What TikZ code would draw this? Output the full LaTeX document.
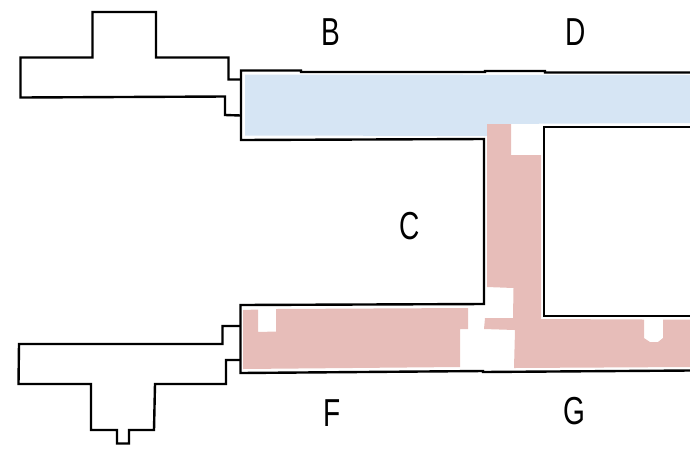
\documentclass[tikz,border=0pt]{standalone}
\usepackage{fontspec}
\setmainfont{Liberation Sans}
\definecolor{hallblue}{HTML}{D6E5F4}
\definecolor{hallpink}{HTML}{E7BDB9}
\tikzset{
    wall/.style={draw=black, line width=2.4pt, line join=miter},
    bluepart/.style={fill=hallblue},
    pinkpart/.style={fill=hallpink},
    wing/.style={font=\fontsize{39}{39}\selectfont, xscale=0.72, inner sep=0pt}
}
\begin{document}
\begin{tikzpicture}[x=1pt, y=-1pt]
    \useasboundingbox (0,0) rectangle (690,448);

    % coloured floors
    \fill[bluepart] (245,74.5) -- (690,75) -- (690,123) -- (487,124) -- (487,136)
        -- (245,135.5) -- cycle;
    \fill[pinkpart] (487,124) -- (511,124) -- (511,155) -- (541,155) -- (541,319)
        -- (644,319.5) -- (644,338) -- (650,342) -- (658,342) -- (663,338)
        -- (663,319.5) -- (690,319.5) -- (690,367) -- (514,368) -- (515,330)
        -- (484,329) -- (485,318) -- (513,318) -- (513.5,288) -- (487,287) -- cycle;
    \fill[pinkpart] (243,310) -- (258,309.5) -- (258,332) -- (276,331.5) -- (276,309)
        -- (468,308) -- (468,329) -- (460,329) -- (460,367) -- (243,369) -- cycle;

    % walls
    \draw[wall] (690,72.5) -- (545,72.5) -- (545,71) -- (485,71) -- (485,72)
        -- (301,72) -- (301,70.5) -- (241,70.5) -- (241,140) -- (484,139)
        -- (484,304) -- (240.5,305) -- (240.5,373) -- (483,371) -- (483,372)
        -- (690,370.5);
    \draw[wall] (690,127) -- (544,127) -- (544,316) -- (690,316);

    % upper chapel
    \draw[wall] (241,79.5) -- (228.5,79.5) -- (228.5,57.5) -- (156,57.5) -- (156,12)
        -- (92.5,12) -- (92.5,57.5) -- (20.5,57.5) -- (20.5,97.5) -- (225,96.5)
        -- (225,115) -- (241,115.5);

    % lower chapel
    \draw[wall] (240,326) -- (222.5,326) -- (222.5,344) -- (19,344) -- (18.5,384)
        -- (91,384) -- (91,430) -- (117,430) -- (117,443.5) -- (129,443.5) -- (129,430)
        -- (154,430) -- (155,384) -- (226,384) -- (226,360) -- (240,360);

    \node[wing] (wingb) at (331,32) {B};
    \node[wing] (wingd) at (576,32) {D};
    \node[wing] (wingc) at (410,226) {C};
    \node[wing] (wingf) at (332,413) {F};
    \node[wing] (wingg) at (574,411) {G};
\end{tikzpicture}
\end{document}
